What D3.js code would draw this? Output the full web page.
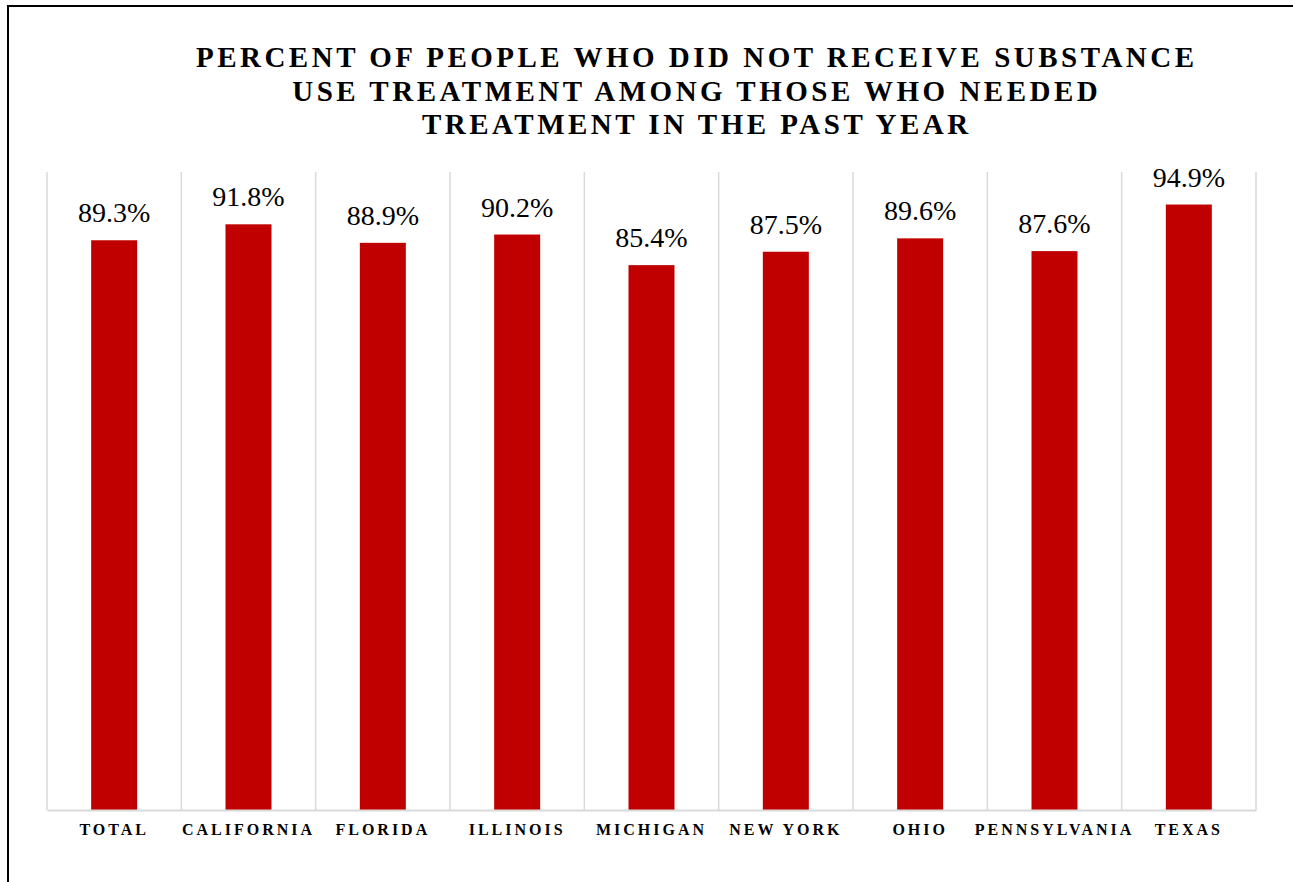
<!DOCTYPE html>
<html>
<head>
<meta charset="utf-8">
<script src="https://cdn.jsdelivr.net/npm/d3@7"></script>
<style>
  html, body { margin: 0; padding: 0; background: #fff; }
  svg { display: block; }
</style>
</head>
<body>
<svg id="chart" width="1293" height="882"></svg>
<script>
const categories = ["TOTAL", "CALIFORNIA", "FLORIDA", "ILLINOIS", "MICHIGAN", "NEW YORK", "OHIO", "PENNSYLVANIA", "TEXAS"];
const values = [89.3, 91.8, 88.9, 90.2, 85.4, 87.5, 89.6, 87.6, 94.9];
const titleLines = [
  "PERCENT OF PEOPLE WHO DID NOT RECEIVE SUBSTANCE",
  "USE TREATMENT AMONG THOSE WHO NEEDED",
  "TREATMENT IN THE PAST YEAR"
];
const yDomain = [0, 100];

const FONT = '"Liberation Serif"';
const svg = d3.select("#chart");
const W = 1293, H = 882;
const plot = { left: 47, right: 1256, top: 172, bottom: 810 };

// outer border (top & left visible)
svg.append("rect")
  .attr("x", 8).attr("y", 6)
  .attr("width", W + 20).attr("height", H + 20)
  .attr("fill", "none").attr("stroke", "#000").attr("stroke-width", 2);

const x = d3.scaleBand().domain(categories).range([plot.left, plot.right]).paddingInner(0).paddingOuter(0);
const y = d3.scaleLinear().domain(yDomain).range([plot.bottom, plot.top]);

// vertical gridlines at band boundaries
const bounds = categories.map(c => x(c)).concat([plot.right]);
svg.append("g").selectAll("line").data(bounds).join("line")
  .attr("x1", d => d).attr("x2", d => d)
  .attr("y1", plot.top).attr("y2", plot.bottom)
  .attr("stroke", "#d9d9d9").attr("stroke-width", 1.5);

// bars
const barW = 46;
svg.append("g").selectAll("rect").data(values).join("rect")
  .attr("x", (d, i) => x(categories[i]) + x.bandwidth() / 2 - barW / 2)
  .attr("y", d => y(d))
  .attr("width", barW)
  .attr("height", d => y(0) - y(d))
  .attr("fill", "#C00000");

// baseline axis
const xAxis = d3.axisBottom(x).tickSize(0).tickPadding(0);
const axisG = svg.append("g").attr("transform", `translate(0,${plot.bottom})`).call(xAxis);
axisG.select(".domain").attr("stroke", "#d9d9d9").attr("stroke-width", 2);
axisG.selectAll(".tick text")
  .attr("y", 25)
  .attr("dy", 0)
  .attr("dx", 0)
  .style("font-family", FONT)
  .style("font-size", "16px")
  .style("font-weight", "bold")
  .style("letter-spacing", "3px")
  .attr("fill", "#000");

// value labels
svg.append("g").selectAll("text").data(values).join("text")
  .attr("x", (d, i) => x(categories[i]) + x.bandwidth() / 2)
  .attr("y", d => y(d) - 18)
  .attr("text-anchor", "middle")
  .style("font-family", FONT)
  .style("font-size", "28px")
  .attr("fill", "#000")
  .text(d => d.toFixed(1) + "%");

// title
svg.append("g").selectAll("text").data(titleLines).join("text")
  .attr("x", 695 + 1.75)
  .attr("y", (d, i) => 67 + i * 33.5)
  .attr("text-anchor", "middle")
  .style("font-family", FONT)
  .style("font-size", "29px")
  .style("font-weight", "bold")
  .style("letter-spacing", "3.5px")
  .attr("fill", "#000")
  .text(d => d);
</script>
</body>
</html>
